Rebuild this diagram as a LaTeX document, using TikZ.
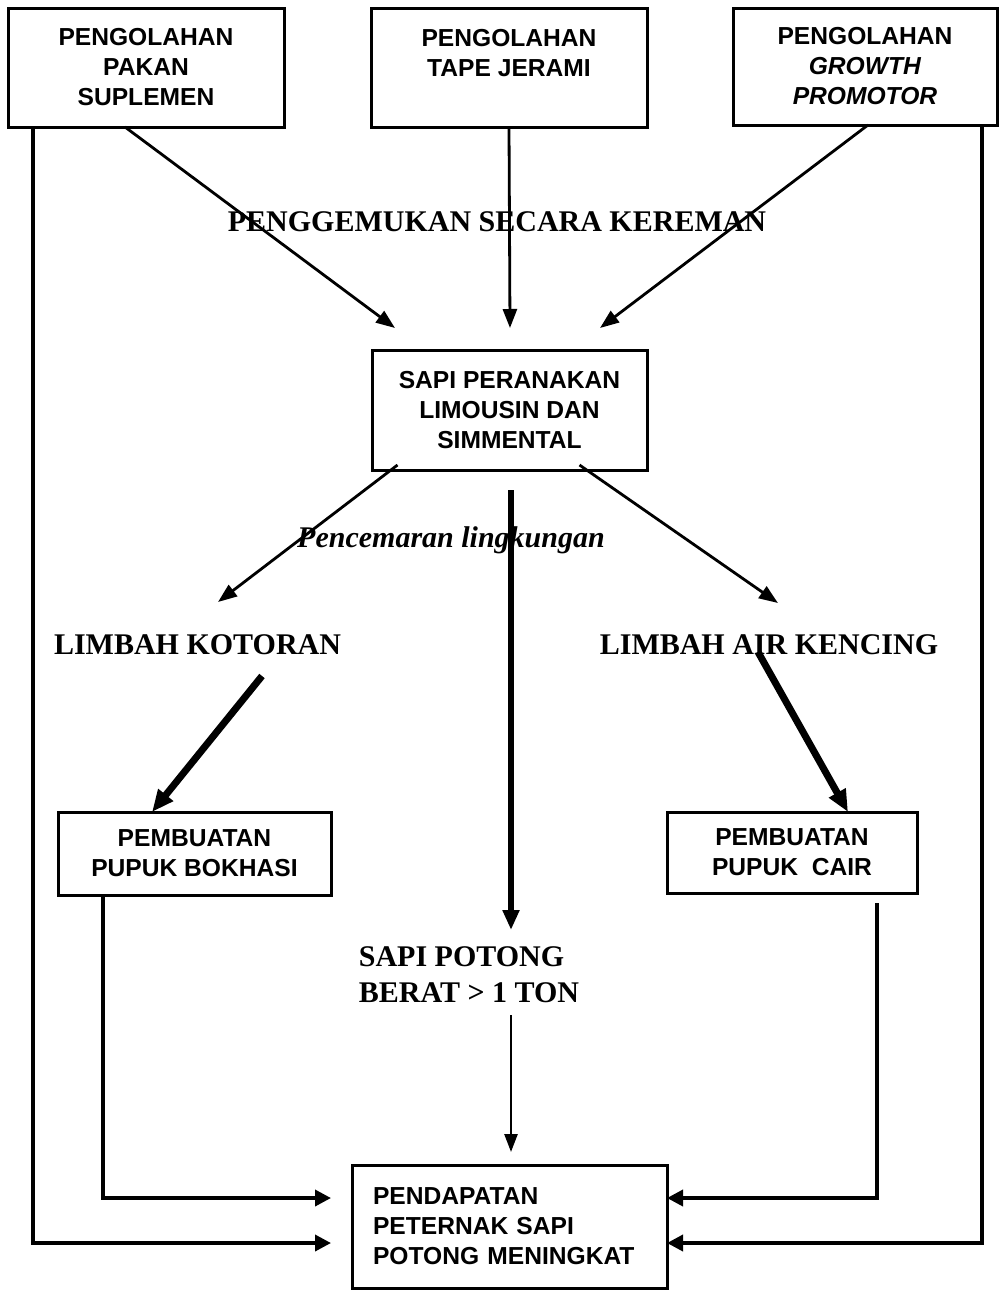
\documentclass[tikz,border=0pt]{standalone}
\usepackage{fontspec}
\setmainfont{Liberation Serif}
\setsansfont{Liberation Sans}
\usetikzlibrary{arrows.meta,calc}
\begin{document}
\begin{tikzpicture}[x=0.5pt,y=-0.5pt,
 box/.style={draw,line width=1.5pt,inner sep=0pt,outer sep=0pt,align=center,font=\sffamily\bfseries\fontsize{12.3}{15}\selectfont},
 lbl/.style={inner sep=0pt,font=\bfseries\fontsize{15}{18}\selectfont},
 thinarr/.style={line width=1.4pt,-{Triangle[length=9.5pt,width=7pt]}},
 thickarr/.style={line width=3.5pt,-{Triangle[length=11pt,width=9pt]}},
 sidearr/.style={line width=1.8pt,-{Triangle[length=8pt,width=8pt]}},
]
\useasboundingbox (0,0) rectangle (999,1290);
% boxes
\node[box,minimum width=138pt,minimum height=59.5pt] (b1) at (146,67.5) {PENGOLAHAN\\PAKAN\\SUPLEMEN};
\node[box,minimum width=138pt,minimum height=59.5pt] (b2) at (509,67.5) {PENGOLAHAN\\TAPE JERAMI\\\mbox{}};
\node[box,minimum width=132pt,minimum height=58.5pt] (b3) at (865,66.5) {PENGOLAHAN\\\textit{GROWTH}\\\textit{PROMOTOR}};
\node[box,minimum width=137.5pt,minimum height=60pt] (sapi) at (509.5,410) {SAPI PERANAKAN\\LIMOUSIN DAN\\SIMMENTAL};
\node[box,minimum width=136.5pt,minimum height=41.5pt] (bok) at (194.5,853.5) {PEMBUATAN\\PUPUK BOKHASI};
\node[box,minimum width=125pt,minimum height=40.5pt] (cair) at (792,852.5) {PEMBUATAN\\PUPUK~~CAIR};
\node[box,align=left,text width=136.5pt,inner xsep=10.5pt,minimum height=61.5pt] (pend) at (509.5,1226.5) {PENDAPATAN\\PETERNAK SAPI\\POTONG MENINGKAT};
% labels
\node[lbl] (kerem) at (497,222) {PENGGEMUKAN SECARA KEREMAN};
\node[lbl,font=\bfseries\itshape\fontsize{15}{18}\selectfont] (cemar) at (451,540) {Pencemaran lingkungan};
\node[lbl] (kot) at (197.5,645) {LIMBAH KOTORAN};
\node[lbl] (air) at (769,645) {LIMBAH AIR KENCING};
\node[lbl,align=left] (pot) at (469,975) {SAPI POTONG\\BERAT > 1 TON};
% free ends
\coordinate (t1) at (395,328);
\coordinate (t2) at (510,328);
\coordinate (t3) at (600,328);
\coordinate (tk) at (218,602);
\coordinate (ta) at (778,603);
\coordinate (c0) at (511,490);
\coordinate (c1) at (511,930);
\coordinate (c2) at (511,1015);
\coordinate (c3) at (511,1152);
\coordinate (k0) at (262,676);
\coordinate (a0) at (758,652);
% connectors
\draw[thinarr] ($(b1.south)+(-21,0)$) -- (t1);
\draw[thinarr] (b2.south) -- (t2);
\draw[thinarr] ($(b3.south)+(3,0)$) -- (t3);
\draw[thinarr] ($(sapi.south)+(-112,-5)$) -- (tk);
\draw[thinarr] ($(sapi.south)+(70,-5)$) -- (ta);
\draw[line width=3pt,-{Triangle[length=10pt,width=8pt]}] (c0) -- (c1);
\draw[line width=1.3pt,-{Triangle[length=9pt,width=6.5pt]}] (c2) -- (c3);
\draw[thickarr] (k0) -- ($(bok.north)+(-42.5,0)$);
\draw[thickarr] (a0) -- ($(cair.north)+(56,0)$);
\draw[sidearr] ($(b1.south west)+(25,0)$) |- ($(pend.west)+(-21,16.5)$);
\draw[sidearr] ($(b3.south east)+(-15,0)$) |- ($(pend.east)+(0,16.5)$);
\draw[sidearr] ($(bok.south west)+(45,0)$) |- ($(pend.west)+(-21,-28.5)$);
\draw[sidearr] ($(cair.south east)+(-40,10)$) |- ($(pend.east)+(0,-28.5)$);
\end{tikzpicture}
\end{document}
